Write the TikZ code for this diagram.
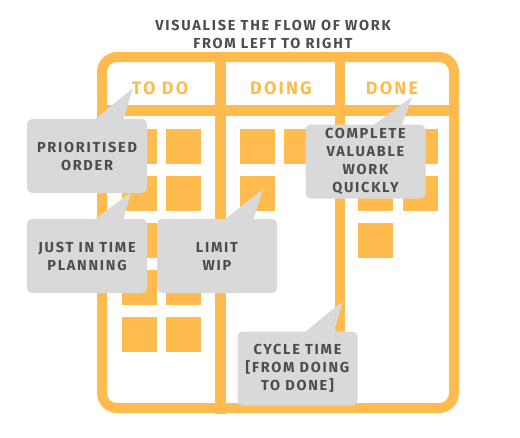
\documentclass[tikz,border=0pt]{standalone}
\usepackage{fontspec}
\setmainfont{Fira Sans}
\newfontfamily\spacedfont[LetterSpace=12]{Fira Sans}
\usetikzlibrary{positioning}
\definecolor{kanban}{HTML}{FFBB4D}
\definecolor{notegray}{HTML}{D9D9D9}
\definecolor{ink}{HTML}{4D4D4D}

\begin{document}
\begin{tikzpicture}[
        x=1pt, y=-1pt,
        frame/.style={draw=kanban, line width=10pt},
        ticket/.style={fill=kanban, minimum size=35pt, inner sep=0pt, anchor=north west},
        heading/.style={text=kanban, font=\spacedfont\bfseries\fontsize{18}{20}\selectfont},
        note/.style={
            fill=notegray, rounded corners=5pt,
            minimum width=120pt, minimum height=74pt,
            align=center, text=ink,
            font=\spacedfont\bfseries\fontsize{14.5}{18}\selectfont
          },
        pointer/.style={fill=notegray}
        ]
        \useasboundingbox (0,0) rectangle (520,437);
        \node[text=ink, align=center, font=\spacedfont\bfseries\fontsize{14.5}{18}\selectfont]
            (title) at (273,34) {VISUALISE THE FLOW OF WORK\\FROM LEFT TO RIGHT};
        % board
        \draw[frame, rounded corners=15pt] (102,57) rectangle (454,408);
        \draw[kanban, line width=11pt] (97,110.5) -- (459,110.5);
        \draw[kanban, line width=11pt] (220.5,57) -- (220.5,414);
        \draw[kanban, line width=10pt] (340,57) -- (340,408);
        \node[heading] (todo) at (160,88) {TO DO};
        \node[heading] (doing) at (281,88) {DOING};
        \node[heading] (done) at (392,88) {DONE};
        % tickets
        \foreach \y in {129,176,223,270,317} {
            \node[ticket] at (122,\y) {};
            \node[ticket] at (166,\y) {};
          }
        \foreach \x/\y in {240/129, 284/129, 240/176} {
            \node[ticket] at (\x,\y) {};
          }
        \foreach \x/\y in {358/129, 403/129, 358/176, 403/176, 358/223} {
            \node[ticket] at (\x,\y) {};
          }
        % callouts
        \node[note] (prio) at (87,156) {PRIORITISED\\ORDER};
        \node[note] (jit) at (87,256) {JUST IN TIME\\PLANNING};
        \node[note] (wip) at (217,256) {LIMIT\\WIP};
        \node[note] (quick) at (365.5,161.5) {COMPLETE\\VALUABLE\\WORK\\QUICKLY};
        \node[note] (cycle) at (297.5,368.5) {CYCLE TIME\\{[FROM DOING}\\TO DONE]};
        \coordinate (prio tip) at (133,88);
        \coordinate (jit tip) at (131,192);
        \coordinate (wip tip) at (263,189);
        \coordinate (quick tip) at (412,97);
        \coordinate (cycle tip) at (343,301);
        \foreach \n in {prio, jit, wip, quick, cycle} {
            \fill[pointer] ([xshift=6pt, yshift=-2pt]\n.north) -- (\n\space tip)
                -- ([xshift=36pt, yshift=-2pt]\n.north) -- cycle;
          }
    \end{tikzpicture}
\end{document}
